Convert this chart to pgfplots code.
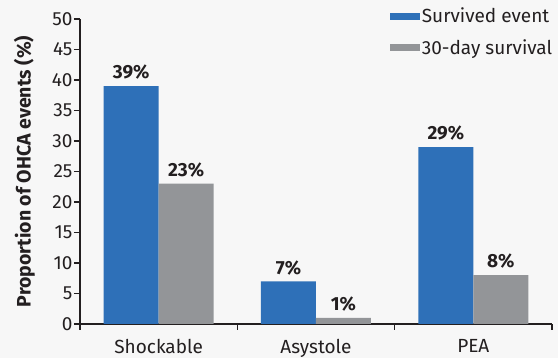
\documentclass[border=0pt]{standalone}
\usepackage{pgfplots}
\pgfplotsset{compat=1.18}
\usepackage{fontspec}
\setmainfont{Fira Sans}
\definecolor{cblue}{HTML}{2E70B8}
\definecolor{cgray}{HTML}{939598}
\definecolor{cax}{HTML}{231F20}
\definecolor{cbg}{HTML}{F7F7F7}
\begin{document}
\begin{tikzpicture}
\useasboundingbox[fill=cbg] (-80pt,-34pt) rectangle (478pt,324pt);
\begin{axis}[
  at={(0pt,0pt)}, anchor=south west,
  scale only axis, width=472pt, height=305pt,
  xmin=-0.5, xmax=2.5, ymin=0, ymax=50,
  ybar=0pt, bar width=55pt,
  axis x line*=bottom, axis y line*=left,
  axis line style={cax, line width=1.6pt, -},
  xtick={0,1,2}, xticklabels={Shockable,Asystole,PEA},
  major x tick style={draw=none},
  minor xtick={-0.5,0.5,1.5,2.5},
  minor x tick style={cax, line width=1.6pt},
  minor tick length=6pt,
  tick align=outside,
  ytick={0,5,...,50},
  major y tick style={cax, line width=1.6pt},
  major tick length=6pt,
  ticklabel style={font=\fontsize{19}{21}\selectfont, text=cax},
  /pgf/number format/assume math mode=true,
  xticklabel style={yshift=-6pt},
  yticklabel style={xshift=2pt},
  ylabel={\textbf{Proportion of OHCA events (\%)}},
  ylabel style={font=\fontsize{19.5}{21}\selectfont, text=cax},
  ylabel shift=10pt,
  nodes near coords={\textbf{\pgfmathprintnumber{\pgfplotspointmeta}\%}},
  every node near coord/.append style={font=\fontsize{19}{21}\selectfont, text=cax, yshift=3pt},
  legend style={draw=none, fill=none, at={(1.005,1.05)}, anchor=north east,
    font=\fontsize{19}{21}\selectfont, text=cax, row sep=11pt, inner xsep=0pt},
  legend cell align=left,
  legend image code/.code={\fill[#1] (0pt,-3.5pt) rectangle (30pt,3.5pt);},
  clip=false,
]
\addplot[fill=cblue, draw=none] coordinates {(0,39) (1,7) (2,29)};
\addplot[fill=cgray, draw=none] coordinates {(0,23) (1,1) (2,8)};
\legend{Survived event, 30-day survival}
\end{axis}
\end{tikzpicture}
\end{document}
